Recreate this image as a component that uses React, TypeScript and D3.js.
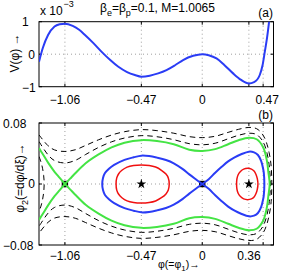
import * as d3 from 'd3'

const W = 302, H = 277
const font = '"Liberation Sans", Arial, Helvetica, sans-serif'

const phiDomain = [-1.26, 0.55]
const gridPhi = [-1.06, -0.47, 0, 0.36, 0.47]
const ticksA = [-1.06, -0.47, 0, 0.47]
const ticksB = [-1.06, -0.47, 0, 0.36]
const yTicksA = [-1, 0, 1]
const yTicksB = [-0.08, 0, 0.08]

// V(phi), in units of 1e-3
const potPhi = [-1.26, -1.23, -1.19, -1.14, -1.1, -1.06, -1.0, -0.95, -0.905, -0.84, -0.778, -0.71, -0.65, -0.58, -0.52, -0.47, -0.405, -0.34, -0.276, -0.21, -0.148, -0.07, 0, 0.05, 0.11, 0.17, 0.238, 0.3, 0.36, 0.4, 0.444, 0.465, 0.483, 0.5, 0.516, 0.53]
const potV = [-0.23, 0.2, 0.59, 0.85, 0.92, 0.94, 0.87, 0.75, 0.59, 0.34, 0.08, -0.18, -0.38, -0.55, -0.64, -0.69, -0.66, -0.59, -0.49, -0.34, -0.18, -0.05, 0, -0.03, -0.13, -0.33, -0.59, -0.79, -0.9, -0.86, -0.64, -0.35, 0.08, 0.5, 1.0, 1.5]

// phase curves: upper halves [phi, phi2], the lower halves are their mirror
const greenLeft = [[-1.06, 0], [-1.1, 0.008], [-1.14, 0.016], [-1.19, 0.028], [-1.23, 0.039], [-1.26, 0.047]]
const greenRight = [[-1.06, 0], [-1.02, 0.007], [-0.98, 0.0141], [-0.9, 0.0272], [-0.8, 0.0388], [-0.7, 0.0481], [-0.6, 0.0542], [-0.47, 0.0575], [-0.35, 0.0563], [-0.22, 0.0522], [-0.1, 0.0449], [0, 0.0434], [0.1, 0.0457], [0.2, 0.0522], [0.28, 0.0574], [0.36, 0.0606], [0.42, 0.0587], [0.47, 0.0482], [0.5, 0.0297], [0.51, 0.016], [0.5205, 0]]
const blueLeft = [[0, 0], [-0.05, 0.0062], [-0.1, 0.0126], [-0.15, 0.0195], [-0.22, 0.0272], [-0.28, 0.0315], [-0.35, 0.0346], [-0.41, 0.0366], [-0.47, 0.0372], [-0.53, 0.035], [-0.6, 0.0316], [-0.68, 0.025], [-0.72, 0.02], [-0.752, 0.014], [-0.766, 0.008], [-0.772, 0]]
const blueRight = [[0, 0], [0.05, 0.0063], [0.1, 0.0148], [0.15, 0.0226], [0.2, 0.0297], [0.25, 0.035], [0.3, 0.039], [0.36, 0.0424], [0.4, 0.0415], [0.43, 0.038], [0.455, 0.03], [0.47, 0.02], [0.475, 0.0148], [0.4795, 0]]
const redLeft = [[-0.665, 0], [-0.66, 0.008], [-0.645, 0.0135], [-0.62, 0.018], [-0.58, 0.0222], [-0.53, 0.0243], [-0.47, 0.025], [-0.41, 0.0243], [-0.36, 0.0222], [-0.315, 0.018], [-0.28, 0.013], [-0.262, 0.008], [-0.255, 0]]
const redRight = [[0.265, 0], [0.268, 0.007], [0.278, 0.0125], [0.295, 0.0165], [0.32, 0.0195], [0.35, 0.0205], [0.38, 0.0195], [0.4, 0.017], [0.415, 0.0125], [0.425, 0.007], [0.43, 0]]
const dashA = [[-1.26, 0.0645], [-1.19, 0.0502], [-1.14, 0.0447], [-1.06, 0.0427], [-0.98, 0.0449], [-0.9, 0.0506], [-0.8, 0.058], [-0.7, 0.0642], [-0.6, 0.0686], [-0.47, 0.0713], [-0.35, 0.07], [-0.22, 0.0666], [-0.1, 0.0621], [0, 0.0608], [0.1, 0.0626], [0.2, 0.0677], [0.28, 0.0717], [0.36, 0.0742], [0.42, 0.0725], [0.47, 0.064], [0.5, 0.052], [0.516, 0.0412], [0.53, 0.0265], [0.537, 0]]
const dashB = [[-1.26, 0.0557], [-1.19, 0.0382], [-1.14, 0.0307], [-1.06, 0.0276], [-0.98, 0.031], [-0.9, 0.0387], [-0.8, 0.048], [-0.7, 0.0553], [-0.6, 0.0603], [-0.47, 0.0634], [-0.35, 0.062], [-0.22, 0.0581], [-0.1, 0.0529], [0, 0.0514], [0.1, 0.0535], [0.2, 0.0593], [0.28, 0.0639], [0.36, 0.0666], [0.42, 0.0648], [0.47, 0.0551], [0.5, 0.0405], [0.516, 0.0253], [0.522, 0.0155], [0.5265, 0]]
const dashC = [[-1.26, 0.036], [-1.245, 0.029], [-1.232, 0.02], [-1.224, 0.011], [-1.22, 0]]

const centers = [-0.47, 0.36]
const saddles = [-1.06, 0]

const mirror = pts => pts.map(([a, b]) => [a, -b])
const openLoop = up => [...up, ...mirror(up).reverse().slice(1)]
const closedLoop = up => [...up, ...mirror(up).reverse().slice(1, -1)]

const minus = s => String(s).replace('-', '\u2212')

export default function App() {
  const x = d3.scaleLinear().domain(phiDomain).range([39, 273.5])
  const yA = d3.scaleLinear().domain([-1, 1]).range([86.7, 21.7])
  const yB = d3.scaleLinear().domain([-0.08, 0.08]).range([245, 123])

  const potLine = d3.line().x((d, i) => x(potPhi[i])).y(d => yA(d)).curve(d3.curveMonotoneX)
  const phase = d3.line().x(d => x(d[0])).y(d => yB(d[1])).curve(d3.curveCatmullRom)
  const phaseClosed = d3.line().x(d => x(d[0])).y(d => yB(d[1])).curve(d3.curveCatmullRomClosed)

  const star = d3.symbol(d3.symbolStar, 30)()
  const x0 = x.range()[0], x1 = x.range()[1]

  const panel = (y, yTicks) => (
    <g>
      {gridPhi.map(t => (
        <line key={'g' + t} x1={x(t)} x2={x(t)} y1={y.range()[1]} y2={y.range()[0]} stroke='#888' strokeWidth={0.8} strokeDasharray='1,3' />
      ))}
      <line x1={x0} x2={x1} y1={y(0)} y2={y(0)} stroke='#888' strokeWidth={0.8} strokeDasharray='1,3' />
      <rect x={x0} y={y.range()[1]} width={x1 - x0} height={y.range()[0] - y.range()[1]} fill='none' stroke='black' strokeWidth={1} />
      {gridPhi.map(t => (
        <g key={'t' + t}>
          <line x1={x(t)} x2={x(t)} y1={y.range()[0]} y2={y.range()[0] - 3} stroke='black' />
          <line x1={x(t)} x2={x(t)} y1={y.range()[1]} y2={y.range()[1] + 3} stroke='black' />
        </g>
      ))}
      {yTicks.map(t => (
        <g key={'y' + t}>
          <line x1={x0} x2={x0 + 3} y1={y(t)} y2={y(t)} stroke='black' />
          <line x1={x1} x2={x1 - 3} y1={y(t)} y2={y(t)} stroke='black' />
        </g>
      ))}
    </g>
  )

  return (
    <svg width={W} height={H} style={{ position: 'absolute', left: 0, top: 0, background: 'white' }} fontFamily={font} fontSize={12}>
      <defs>
        <clipPath id='clipA'><rect x={x0} y={yA.range()[1]} width={x1 - x0} height={yA.range()[0] - yA.range()[1]} /></clipPath>
        <clipPath id='clipB'><rect x={x0} y={yB.range()[1]} width={x1 - x0} height={yB.range()[0] - yB.range()[1]} /></clipPath>
      </defs>

      {/* panel (a) */}
      {panel(yA, yTicksA)}
      <path d={potLine(potV)} fill='none' stroke='#2a3cf5' strokeWidth={2} clipPath='url(#clipA)' />

      <text x={40} y={14.5}>x 10</text>
      <text x={63.5} y={7} fontSize={9}>{minus(-3)}</text>
      <text x={100} y={12}>
        <tspan>β</tspan><tspan fontSize={9} dy={3.5}>e</tspan>
        <tspan dy={-3.5}>=β</tspan><tspan fontSize={9} dy={3.5}>p</tspan>
        <tspan dy={-3.5}>=0.1, M=1.0065</tspan>
      </text>
      <text x={273} y={16.5} textAnchor='end'>(a)</text>
      <text transform='translate(19,53) rotate(-90)' textAnchor='middle'>V(φ) →</text>

      <text x={22} y={25.5}>1</text>
      <text x={35} y={58.5} textAnchor='end'>0</text>
      <text x={22} y={92}>{minus(-1)}</text>
      {ticksA.map(t => (
        <text key={t} x={x(t) + (t === 0.47 ? 4 : 0)} y={104} textAnchor='middle'>{minus(t)}</text>
      ))}

      {/* panel (b) */}
      {panel(yB, yTicksB)}
      <g clipPath='url(#clipB)' fill='none'>
        {[dashA, dashB, dashC].map((c, i) => (
          <path key={i} d={phase(openLoop(c))} stroke='black' strokeWidth={1} strokeDasharray='5.5,4' />
        ))}
        {saddles.map(s => (
          <rect key={s} x={x(s) - 3.2} y={yB(0) - 3.2} width={6.4} height={6.4} fill='black' />
        ))}
        <path d={phase(greenLeft)} stroke='#44e444' strokeWidth={2} />
        <path d={phase(mirror(greenLeft))} stroke='#44e444' strokeWidth={2} />
        <path d={phase(openLoop(greenRight))} stroke='#44e444' strokeWidth={2} />
        <path d={phase(openLoop(blueLeft))} stroke='#2a3cf5' strokeWidth={2} />
        <path d={phase(openLoop(blueRight))} stroke='#2a3cf5' strokeWidth={2} />
        <path d={phaseClosed(closedLoop(redLeft))} stroke='#f01010' strokeWidth={1.5} />
        <path d={phaseClosed(closedLoop(redRight))} stroke='#f01010' strokeWidth={1.5} />
        {centers.map(c => (
          <path key={c} d={star} transform={`translate(${x(c)},${yB(0)})`} fill='black' />
        ))}
      </g>

      <text x={273} y={119} textAnchor='end'>(b)</text>
      <text transform='translate(24,178) rotate(-90)' textAnchor='middle'>
        <tspan>φ</tspan><tspan fontSize={9} dy={3.5}>2</tspan><tspan dy={-3.5}>(=dφ/dξ)→</tspan>
      </text>

      <text x={3} y={128}>0.08</text>
      <text x={35} y={188} textAnchor='end'>0</text>
      <text x={3} y={250}>{minus(-0.08)}</text>
      {ticksB.map(t => (
        <text key={t} x={x(t)} y={260} textAnchor='middle'>{minus(t)}</text>
      ))}
      <text x={158} y={268} fontSize={10.5}>
        <tspan>φ(=φ</tspan><tspan fontSize={8} dy={2.5}>1</tspan><tspan dy={-2.5}>)→</tspan>
      </text>
    </svg>
  )
}
